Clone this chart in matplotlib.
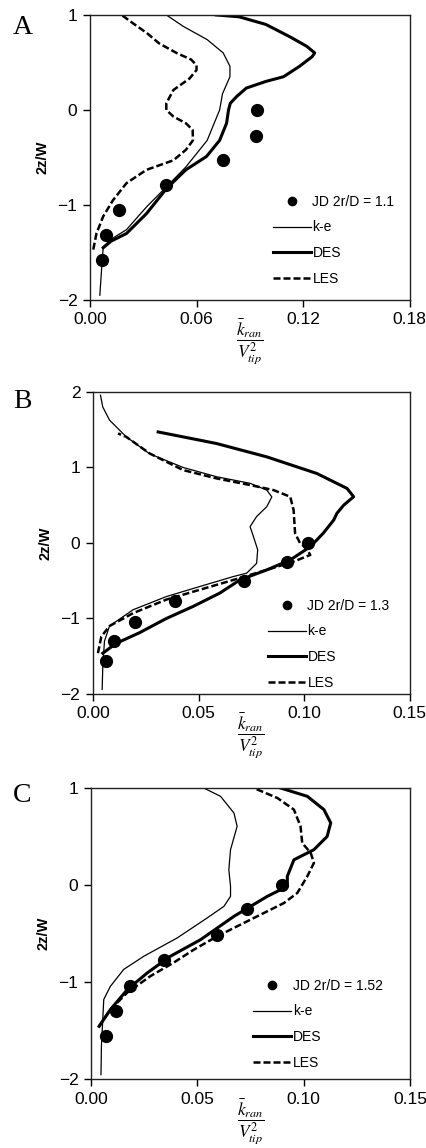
import matplotlib
matplotlib.use('Agg')
import matplotlib.pyplot as plt

plt.rcParams['font.family'] = ['Liberation Sans', 'DejaVu Sans']
plt.rcParams['mathtext.fontset'] = 'stix'

# ---------------- data ----------------
# Panel A
a_ke_x = [0.0056, 0.0065, 0.0075, 0.0120, 0.0206, 0.0319, 0.043, 0.054, 0.066, 0.073, 0.0746, 0.0788, 0.0788, 0.075, 0.066, 0.0525, 0.043]
a_ke_y = [-1.95, -1.70, -1.44, -1.36, -1.26, -1.02, -0.81, -0.60, -0.32, 0.0, 0.17, 0.35, 0.46, 0.60, 0.74, 0.88, 1.0]
a_des_x = [0.0075, 0.012, 0.0206, 0.0319, 0.043, 0.054, 0.0656, 0.073, 0.0769, 0.078, 0.079, 0.0825, 0.088, 0.099, 0.109, 0.118, 0.125, 0.1265, 0.122, 0.1125, 0.099, 0.084, 0.071]
a_des_y = [-1.45, -1.38, -1.30, -1.09, -0.83, -0.63, -0.49, -0.32, -0.14, 0.0, 0.07, 0.14, 0.23, 0.30, 0.35, 0.46, 0.56, 0.60, 0.67, 0.77, 0.90, 0.98, 1.0]
a_les_x = [0.0019, 0.0037, 0.0075, 0.013, 0.0206, 0.0319, 0.047, 0.054, 0.058, 0.0578, 0.054, 0.047, 0.043, 0.043, 0.047, 0.056, 0.060, 0.060, 0.057, 0.0487, 0.039, 0.032, 0.0244, 0.0178]
a_les_y = [-1.47, -1.30, -1.12, -0.95, -0.77, -0.63, -0.53, -0.42, -0.32, -0.21, -0.14, -0.07, 0.0, 0.07, 0.21, 0.33, 0.42, 0.47, 0.53, 0.60, 0.70, 0.81, 0.91, 1.0]
a_jd_x = [0.0938, 0.0937, 0.075, 0.0428, 0.0161, 0.009, 0.0066]
a_jd_y = [0.0, -0.27, -0.53, -0.79, -1.05, -1.32, -1.58]

# Panel B
b_ke_x = [0.0044, 0.0047, 0.0055, 0.0079, 0.019, 0.0348, 0.0506, 0.0665, 0.0728, 0.0775, 0.078, 0.076, 0.0744, 0.0775, 0.0823, 0.0847, 0.0823, 0.0744, 0.0585, 0.0427, 0.0269, 0.0158, 0.0079, 0.0047, 0.0036]
b_ke_y = [-1.94, -1.63, -1.30, -1.10, -0.885, -0.71, -0.577, -0.445, -0.40, -0.27, -0.09, 0.084, 0.216, 0.35, 0.48, 0.61, 0.70, 0.79, 0.877, 1.0, 1.18, 1.405, 1.626, 1.80, 1.956]
b_des_x = [0.0047, 0.011, 0.022, 0.0348, 0.0475, 0.060, 0.0696, 0.0823, 0.0934, 0.1029, 0.109, 0.114, 0.1155, 0.1187, 0.1234, 0.1203, 0.106, 0.0823, 0.0585, 0.0309]
b_des_y = [-1.46, -1.33, -1.19, -1.0, -0.84, -0.665, -0.49, -0.357, -0.225, -0.05, 0.128, 0.304, 0.392, 0.50, 0.612, 0.722, 0.92, 1.14, 1.317, 1.47]
b_les_x = [0.0024, 0.004, 0.0079, 0.019, 0.0348, 0.0506, 0.0665, 0.0823, 0.095, 0.1029, 0.101, 0.098, 0.0957, 0.095, 0.0934, 0.0855, 0.0744, 0.0585, 0.0427, 0.0269, 0.0158, 0.0119]
b_les_y = [-1.46, -1.24, -1.10, -0.93, -0.75, -0.62, -0.49, -0.357, -0.247, -0.159, -0.07, 0.0, 0.128, 0.436, 0.612, 0.70, 0.767, 0.855, 0.965, 1.185, 1.405, 1.45]
b_jd_x = [0.102, 0.0918, 0.0717, 0.0388, 0.0198, 0.0098, 0.0063]
b_jd_y = [0.0, -0.25, -0.51, -0.775, -1.05, -1.30, -1.57]

# Panel C
c_ke_x = [0.0047, 0.0049, 0.006, 0.0091, 0.0154, 0.0248, 0.0405, 0.0546, 0.0625, 0.0656, 0.0656, 0.0648, 0.0656, 0.0687, 0.0672, 0.0609, 0.053]
c_ke_y = [-1.955, -1.66, -1.18, -1.045, -0.87, -0.735, -0.546, -0.34, -0.22, -0.117, -0.014, 0.158, 0.364, 0.605, 0.742, 0.914, 1.0]
c_des_x = [0.0038, 0.0091, 0.017, 0.0264, 0.0373, 0.0515, 0.0672, 0.0829, 0.0923, 0.0923, 0.0954, 0.1048, 0.111, 0.1127, 0.1095, 0.1017, 0.0891]
c_des_y = [-1.457, -1.285, -1.08, -0.907, -0.735, -0.564, -0.323, -0.117, -0.014, 0.09, 0.26, 0.364, 0.50, 0.64, 0.777, 0.914, 1.0]
c_les_x = [0.0038, 0.0091, 0.017, 0.0279, 0.0389, 0.0483, 0.0593, 0.075, 0.0907, 0.097, 0.1017, 0.1048, 0.1033, 0.0993, 0.0985, 0.0954, 0.0876, 0.0765]
c_les_y = [-1.457, -1.285, -1.11, -0.94, -0.80, -0.667, -0.529, -0.357, -0.186, -0.082, 0.09, 0.227, 0.33, 0.433, 0.605, 0.777, 0.897, 1.0]
c_jd_x = [0.0899, 0.0734, 0.0593, 0.0342, 0.0185, 0.0119, 0.0072]
c_jd_y = [0.0, -0.25, -0.52, -0.77, -1.04, -1.30, -1.56]

series_labels = ['k-e', 'DES', 'LES']
jd_labels = ['JD 2r/D = 1.1', 'JD 2r/D = 1.3', 'JD 2r/D = 1.52']
panel_letters = ['A', 'B', 'C']

a_xticks = [0.0, 0.06, 0.12, 0.18]
a_xticklabels = ['0.00', '0.06', '0.12', '0.18']
bc_xticks = [0.0, 0.05, 0.10, 0.15]
bc_xticklabels = ['0.00', '0.05', '0.10', '0.15']
a_yticks = [-2, -1, 0, 1]
b_yticks = [-2, -1, 0, 1, 2]
c_yticks = [-2, -1, 0, 1]

# ---------------- figure ----------------
fig = plt.figure(figsize=(4.26, 11.48), dpi=100)

panels = [
    dict(rect=[0.211, 0.7387, 0.751, 0.2483], ke=(a_ke_x, a_ke_y), des=(a_des_x, a_des_y),
         les=(a_les_x, a_les_y), jd=(a_jd_x, a_jd_y), xlim=(0, 0.18), xt=a_xticks, xtl=a_xticklabels,
         ylim=(-2, 1), yt=a_yticks, leg=(0.572, 0.049), letter_xy=(13, 28)),
    dict(rect=[0.218, 0.3955, 0.744, 0.2631], ke=(b_ke_x, b_ke_y), des=(b_des_x, b_des_y),
         les=(b_les_x, b_les_y), jd=(b_jd_x, b_jd_y), xlim=(0, 0.15), xt=bc_xticks, xtl=bc_xticklabels,
         ylim=(-2, 2), yt=b_yticks, leg=(0.552, 0.013), letter_xy=(13, 402)),
    dict(rect=[0.2136, 0.0601, 0.749, 0.2535], ke=(c_ke_x, c_ke_y), des=(c_des_x, c_des_y),
         les=(c_les_x, c_les_y), jd=(c_jd_x, c_jd_y), xlim=(0, 0.15), xt=bc_xticks, xtl=bc_xticklabels,
         ylim=(-2, 1), yt=c_yticks, leg=(0.508, 0.031), letter_xy=(13, 795)),
]

W, H = 426, 1148
for i, p in enumerate(panels):
    ax = fig.add_axes(p['rect'])
    h_jd, = ax.plot(p['jd'][0], p['jd'][1], 'o', color='black', markersize=8.5, zorder=5,
                    label=jd_labels[i])
    h_ke, = ax.plot(p['ke'][0], p['ke'][1], '-', color='black', lw=0.9, label=series_labels[0])
    h_des, = ax.plot(p['des'][0], p['des'][1], '-', color='black', lw=2.2, label=series_labels[1])
    h_les, = ax.plot(p['les'][0], p['les'][1], color='black', lw=1.8, dashes=(2.8, 1.2),
                     label=series_labels[2])
    ax.set_xlim(*p['xlim'])
    ax.set_ylim(*p['ylim'])
    ax.set_xticks(p['xt'])
    ax.set_xticklabels(p['xtl'])
    ax.set_yticks(p['yt'])
    ax.tick_params(direction='out', length=5, width=1, labelsize=12.5, pad=4,
                   top=False, right=False)
    for s in ax.spines.values():
        s.set_linewidth(1.0)
        s.set_color('#222222')
    ax.set_ylabel('2z/W', fontsize=10.5, fontweight='bold', labelpad=6)
    ax.set_xlabel(r'$\dfrac{\bar{k}_{ran}}{V_{tip}^{2}}$', fontsize=12.5, labelpad=-7)
    ax.legend(handles=[h_jd, h_ke, h_des, h_les], loc='lower left',
              bbox_to_anchor=p['leg'], frameon=False, fontsize=10,
              handlelength=2.75, handletextpad=0.1, labelspacing=0.85,
              borderpad=0, borderaxespad=0, markerscale=0.7)
    lx, ly = p['letter_xy']
    fig.text(lx / W, 1 - ly / H, panel_letters[i], fontsize=20,
             family=['Liberation Serif', 'DejaVu Serif'], ha='left', va='center')

fig.savefig('out.png', dpi=100)
